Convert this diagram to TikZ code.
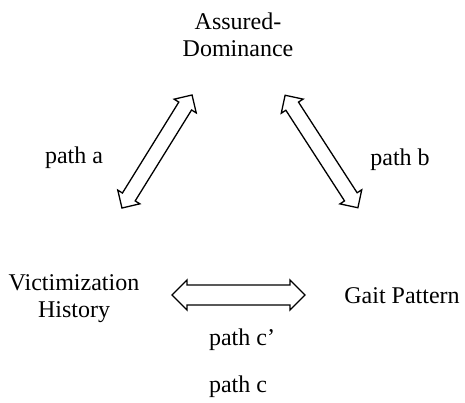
\documentclass[tikz,border=0pt]{standalone}
\usepackage{fontspec}
\setmainfont{Liberation Serif}
\newcommand\dblarr[6]{% center, angle, length, half head, half shaft, head length
  \begin{scope}[shift={#1},rotate=#2]
    \pgfmathsetmacro\hh{#3/2}
    \draw[arrowline] (-\hh,0) -- ++(#6,#4) -- (-\hh+#6,#5) -- (\hh-#6,#5) -- (\hh-#6,#4)
      -- (\hh,0) -- (\hh-#6,-#4) -- (\hh-#6,-#5) -- (-\hh+#6,-#5) -- (-\hh+#6,-#4) -- cycle;
  \end{scope}}
\begin{document}
\begin{tikzpicture}[x=1pt,y=-1pt,
  lbl/.style={inner sep=0pt,anchor=base,align=center,font=\fontsize{24}{27}\selectfont},
  arrowline/.style={draw=black,line width=1.3pt,line join=miter,fill=white}]
\useasboundingbox (0,0) rectangle (465,402);
\node[lbl] (ad) at (238,56) {Assured-\\Dominance};
\node[lbl] (vh) at (74,317) {Victimization\\History};
\node[lbl] (gp) at (402,303) {Gait Pattern};
\node[lbl] (pa) at (74,163) {path a};
\node[lbl] (pb) at (400,165) {path b};
\node[lbl] (pcp) at (242,345) {path c’};
\node[lbl] (pc) at (238,392) {path c};
\dblarr{(157,151.5)}{58.2}{133}{13}{7.5}{13}
\dblarr{(321.5,151.5)}{-57.1}{134}{13}{7.5}{13}
\dblarr{(238.5,295)}{0}{133}{15}{10}{15}
\end{tikzpicture}
\end{document}
